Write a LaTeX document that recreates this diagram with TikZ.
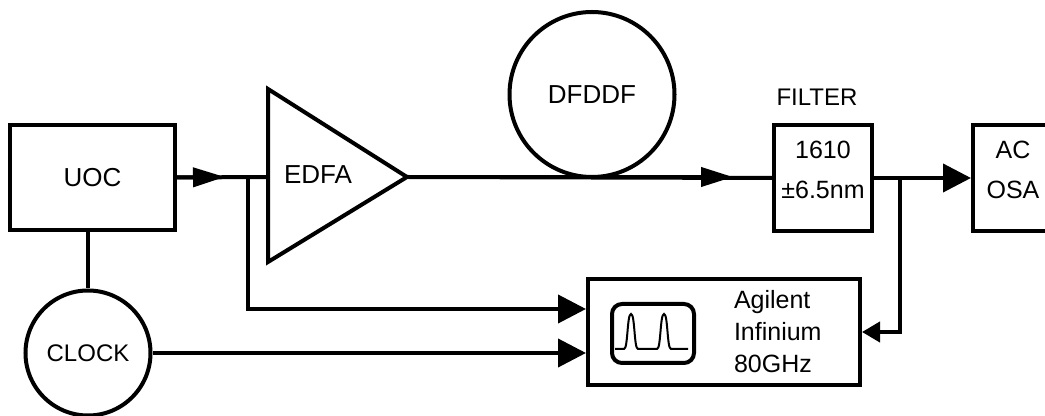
\documentclass[tikz,border=0pt]{standalone}
\usepackage{fontspec}
\setmainfont{Liberation Sans}
\usetikzlibrary{arrows.meta,calc}

\begin{document}
\begin{tikzpicture}[x=0.5pt,y=-0.5pt,line width=2pt,
  box/.style={draw,rectangle,inner sep=0pt,align=center,font=\fontsize{12.5}{20}\selectfont},
  ring/.style={draw,circle,inner sep=0pt},
  fwd/.style={-{Triangle[length=16pt,width=9.5pt]}},
  fat/.style={-{Triangle[length=14pt,width=14pt]}},
  thin/.style={-{Triangle[length=9pt,width=10pt]}}]
 \useasboundingbox (0,0) rectangle (1045,416);
 % blocks
 \node[box,minimum width=82.5pt,minimum height=52.5pt,font=\fontsize{13}{16}\selectfont] (uoc) at (92.5,177.5) {UOC};
 \node[ring,minimum size=62.5pt,font=\fontsize{12}{14}\selectfont] (clock) at (88,353) {CLOCK};
 \node[ring,minimum size=82.5pt,font=\fontsize{13}{16}\selectfont] (dfddf) at (592,94.5) {DFDDF};
 \node[box,minimum width=49pt,minimum height=53pt,text depth=8pt] (filter) at (823,178) {1610\\±6.5nm};
 \node[font=\fontsize{12}{14}\selectfont] (flabel) at (817,97) {FILTER};
 \node[box,minimum width=40pt,minimum height=53pt,text depth=8pt] (osa) at (1013,178) {AC\\OSA};
 \node[box,minimum width=136pt,minimum height=53pt] (agilent) at (724,332) {};
 \node[align=left,anchor=west,inner sep=0pt,font=\fontsize{12.5}{16}\selectfont] (agtext) at (732,332) {Agilent\\Infinium\\80GHz};
 % amplifier
 \coordinate (edfain) at (268,177);
 \coordinate (edfaout) at (407,177);
 \draw (268,89) -- (edfaout) -- (268,262) -- cycle;
 \node[font=\fontsize{13}{16}\selectfont] (edfa) at (318,175) {EDFA};
 % scope screen
 \draw[rounded corners=5pt] (612,304) rectangle (694,363);
 \draw[line width=1pt] (615,349) -- (624,349) .. controls (628,349) and (627,314) .. (631,314)
   .. controls (635,314) and (634,349) .. (638,349) -- (657,349)
   .. controls (661,349) and (660,314) .. (664,314)
   .. controls (668,314) and (667,349) .. (671,349) -- (688,349);
 % links
 \coordinate (a1) at (225,177);
 \coordinate (j1) at (248,177);
 \coordinate (a2) at (733,177);
 \coordinate (j2) at (900,177);
 \coordinate (in1) at ($(agilent.west)+(0,-23)$);
 \draw (uoc.east) -- (edfain);
 \draw[fwd] (uoc.east) -- (a1);
 \draw (edfaout) -- (filter.west);
 \draw[fwd] (edfaout) -- (a2);
 \draw[fat] (filter.east) -- (osa.west);
 \draw[fat] (j1) |- (in1);
 \draw[fat] (clock.east) -- (clock.east -| agilent.west);
 \draw (clock.north |- uoc.south) -- (clock.north);
 \draw[thin] (j2) |- (agilent.east);
\end{tikzpicture}
\end{document}
